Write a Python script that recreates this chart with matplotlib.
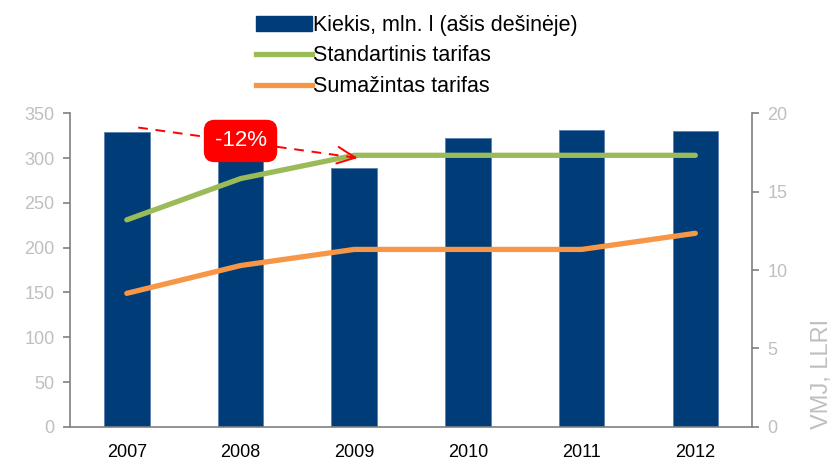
import matplotlib.pyplot as plt
from matplotlib.patches import Patch
from matplotlib.lines import Line2D

plt.rcParams['font.family'] = ['Liberation Sans', 'DejaVu Sans']

years = ['2007', '2008', '2009', '2010', '2011', '2012']
kiekis = [18.8, 18.0, 16.5, 18.4, 18.9, 18.85]          # mln. l, dešinė ašis
standartinis = [231, 277, 303, 303, 303, 303]
sumazintas = [149, 180, 198, 198, 198, 216]

blue = '#003c78'
green = '#9bbb59'
orange = '#f79646'
grid_col = '#808080'
tick_col = '#bfbfbf'

fig = plt.figure(figsize=(8.33, 4.62), dpi=100)
ax = fig.add_axes([0.084, 0.076, 0.819, 0.679])
ax_r = ax.twinx()

x = range(len(years))

# stulpeliai - dešinė ašis
ax_r.bar(x, kiekis, width=0.4, color=blue, edgecolor='#5b7fae', linewidth=0.6)
ax_r.set_ylim(0, 20)
ax_r.set_yticks([0, 5, 10, 15, 20])

# linijos - kairė ašis
ax.set_zorder(ax_r.get_zorder() + 1)
ax.patch.set_visible(False)
ax.plot(x, standartinis, color=green, lw=3.8, solid_capstyle='round', solid_joinstyle='round')
ax.plot(x, sumazintas, color=orange, lw=3.8, solid_capstyle='round', solid_joinstyle='round')
ax.set_ylim(0, 350)
ax.set_yticks(range(0, 351, 50))
ax.set_xlim(-0.5, len(years) - 0.5)
ax.set_xticks(list(x))
ax.set_xticklabels(years)

for a in (ax, ax_r):
    a.spines['top'].set_visible(False)
    for s in ('left', 'right', 'bottom'):
        a.spines[s].set_color(grid_col)
        a.spines[s].set_linewidth(1.2)
ax.spines['right'].set_visible(False)
ax_r.spines['left'].set_visible(False)
ax_r.spines['bottom'].set_visible(False)

ax.tick_params(axis='y', colors=grid_col, labelcolor=tick_col, labelsize=13, length=5, width=1.2, pad=6)
ax_r.tick_params(axis='y', colors=grid_col, labelcolor=tick_col, labelsize=13, length=5, width=1.2, pad=6)
ax.tick_params(axis='x', length=0, labelsize=13, labelcolor='black', pad=12)

# -12% anotacija: punktyrinė linija ir atvira rodyklė
x0, y0 = 0.1, 334
x1, y1 = 2.03, 300
ax.plot([x0, x1], [y0, y1], color='#ff0000', lw=1.4, linestyle=(0, (5, 4)))
ax.annotate('', xy=(x1, y1), xytext=(x1 - 0.02 * (x1 - x0), y1 - 0.02 * (y1 - y0)),
            arrowprops=dict(arrowstyle='->,head_length=1.3,head_width=0.6', color='#ff0000',
                            lw=1.4, shrinkA=0, shrinkB=0))
ax.text(1.0, 319, '-12%', color='white', fontsize=16, ha='center', va='center',
        bbox=dict(boxstyle='round,pad=0.45,rounding_size=0.45', fc='#ff0000', ec='#ff0000'))

fig.text(0.987, 0.19, 'VMJ, LLRI', rotation=90, ha='center', va='center',
         color=tick_col, fontsize=17)

handles = [Patch(facecolor=blue, edgecolor=blue),
           Line2D([0], [0], color=green, lw=3.8),
           Line2D([0], [0], color=orange, lw=3.8)]
labels = ['Kiekis, mln. l (ašis dešinėje)', 'Standartinis tarifas', 'Sumažintas tarifas']
fig.legend(handles, labels, loc='upper center', bbox_to_anchor=(0.5, 1.01), frameon=False,
           fontsize=15.5, handlelength=2.6, handletextpad=0.05, labelspacing=0.45)

fig.savefig('out.png', dpi=100)
